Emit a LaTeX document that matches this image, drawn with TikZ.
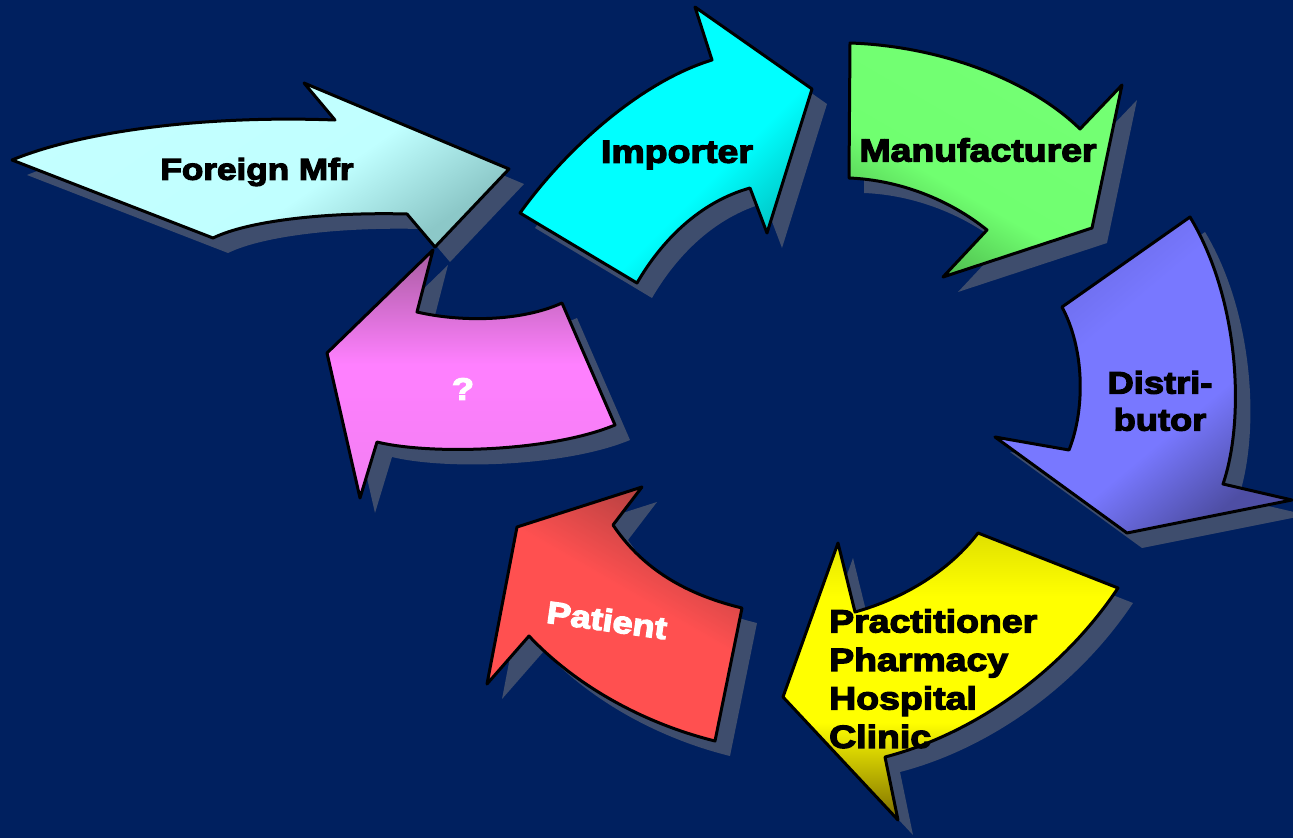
\documentclass[tikz,border=0pt]{standalone}
\usepackage{fontspec}
\newfontfamily\lab[FakeStretch=1.17,FakeBold=4]{Liberation Sans Bold}
\definecolor{bg}{HTML}{00205F}
\definecolor{shd}{HTML}{3E4D6D}
\definecolor{fA}{HTML}{C4FFFF}\definecolor{fB}{HTML}{C0FFFF}\definecolor{fC}{HTML}{8CC8C8}
\definecolor{iA}{HTML}{00E0E0}\definecolor{iB}{HTML}{00FFFF}\definecolor{iC}{HTML}{00C0C0}
\definecolor{mA}{HTML}{74FF74}\definecolor{mB}{HTML}{70FF70}\definecolor{mC}{HTML}{4CB84C}
\definecolor{dA}{HTML}{6868E0}\definecolor{dB}{HTML}{7878FF}\definecolor{dC}{HTML}{4E4EA4}
\definecolor{yA}{HTML}{E0E000}\definecolor{yB}{HTML}{FFFF00}\definecolor{yC}{HTML}{7C6C00}
\definecolor{pA}{HTML}{B04040}\definecolor{pB}{HTML}{FF5050}\definecolor{pC}{HTML}{FF5050}
\definecolor{qA}{HTML}{A85CA0}\definecolor{qB}{HTML}{FF80FF}\definecolor{qC}{HTML}{F27EF2}
\pgfdeclareverticalshading{shF}{100bp}{color(0bp)=(fC); color(25bp)=(fC); color(42bp)=(fB); color(75bp)=(fA); color(100bp)=(fA)}
\pgfdeclareverticalshading{shI}{100bp}{color(0bp)=(iC); color(25bp)=(iC); color(40bp)=(iB); color(62bp)=(iB); color(75bp)=(iA); color(100bp)=(iA)}
\pgfdeclareverticalshading{shM}{100bp}{color(0bp)=(mC); color(25bp)=(mC); color(42bp)=(mB); color(75bp)=(mA); color(100bp)=(mA)}
\pgfdeclareverticalshading{shD}{100bp}{color(0bp)=(dC); color(25bp)=(dC); color(40bp)=(dB); color(60bp)=(dB); color(75bp)=(dA); color(100bp)=(dA)}
\pgfdeclareverticalshading{shY}{100bp}{color(0bp)=(yC); color(25bp)=(yC); color(42bp)=(yB); color(64bp)=(yB); color(75bp)=(yA); color(100bp)=(yA)}
\pgfdeclareverticalshading{shP}{100bp}{color(0bp)=(pC); color(25bp)=(pC); color(55bp)=(pB); color(75bp)=(pA); color(100bp)=(pA)}
\pgfdeclareverticalshading{shQ}{100bp}{color(0bp)=(qC); color(25bp)=(qC); color(52bp)=(qB); color(75bp)=(qA); color(100bp)=(qA)}
\newcommand\pForeign{(12,160) .. controls (80,132) and (200,115) .. (335,120) -- (304,83) -- (509,169) -- (435,247) -- (407,214) .. controls (330,212) and (250,220) .. (213,238) -- cycle}
\newcommand\pImporter{(520,213) -- (637,283) .. controls (662,240) and (700,202) .. (750,188) -- (767,233) -- (812,89) -- (695,7) -- (712,60) .. controls (640,82) and (565,150) .. (520,213) -- cycle}
\newcommand\pManuf{(850,43) .. controls (940,46) and (1030,80) .. (1080,129) -- (1122,85) -- (1092,228) -- (943,277) -- (987,230) .. controls (950,200) and (900,180) .. (849,178) -- cycle}
\newcommand\pDistr{(1190,217) -- (1062,307) .. controls (1085,350) and (1085,410) .. (1069,450) -- (995,437) -- (1127,533) -- (1292,500) -- (1223,484) .. controls (1245,420) and (1240,300) .. (1190,217) -- cycle}
\newcommand\pPract{(978,533) -- (1118,588) .. controls (1060,675) and (970,735) .. (885,757) -- (898,820) -- (783,697) -- (838,543) -- (855,612) .. controls (905,598) and (950,570) .. (978,533) -- cycle}
\newcommand\pPatient{(642,487) -- (517,527) -- (487,684) -- (529,636) .. controls (580,690) and (650,725) .. (715,741) -- (742,608) .. controls (680,593) and (640,565) .. (613,525) -- cycle}
\newcommand\pQuest{(433,250) -- (417,312) .. controls (460,322) and (520,322) .. (562,303) -- (615,425) .. controls (550,452) and (430,455) .. (377,442) -- (360,498) -- (327,353) -- cycle}
\begin{document}
\begin{tikzpicture}[x=1pt,y=-1pt,
  arrowshape/.style={line width=3, draw=black, line join=round},
  shadowshape/.style={fill=shd, shift={(15,15)}},
  lbl/.style={font=\lab\fontsize{32}{38.5}\selectfont, text=black, inner sep=0pt}]
\fill[bg] (0,0) rectangle (1293,838);
\useasboundingbox (0,0) rectangle (1293,838);
% shadows
\foreach \p in {\pForeign,\pImporter,\pManuf,\pDistr,\pPract,\pPatient,\pQuest}{
  \fill[shadowshape] \p;
}
% arrows
\shadedraw[arrowshape, shading=shF, shading angle=35] \pForeign;
\shadedraw[arrowshape, shading=shI, shading angle=45] \pImporter;
\shadedraw[arrowshape, shading=shM, shading angle=-30] \pManuf;
\shadedraw[arrowshape, shading=shD, shading angle=40] \pDistr;
\shadedraw[arrowshape, shading=shY, shading angle=0] \pPract;
\shadedraw[arrowshape, shading=shP, shading angle=-30] \pPatient;
\shadedraw[arrowshape, shading=shQ, shading angle=0] \pQuest;
% labels
\node[lbl, font=\lab\fontsize{30}{36}\selectfont] (foreign) at (257,172) {Foreign Mfr};
\node[lbl] (importer) at (677,155) {Importer};
\node[lbl] (manuf) at (978,150) {Manufacturer};
\node[lbl, align=center, font=\lab\fontsize{31}{37}\selectfont] (distr) at (1160,401) {Distri-\\butor};
\node[lbl, align=left, anchor=north west] (pract) at (829,609) {Practitioner\\Pharmacy\\Hospital\\Clinic};
\node[lbl, text=white, font=\lab\fontsize{31}{36}\selectfont, rotate=-8] (patient) at (607,620) {Patient};
\node[lbl, text=white, font=\lab\fontsize{31}{36}\selectfont] (quest) at (463,389) {?};
\end{tikzpicture}
\end{document}
